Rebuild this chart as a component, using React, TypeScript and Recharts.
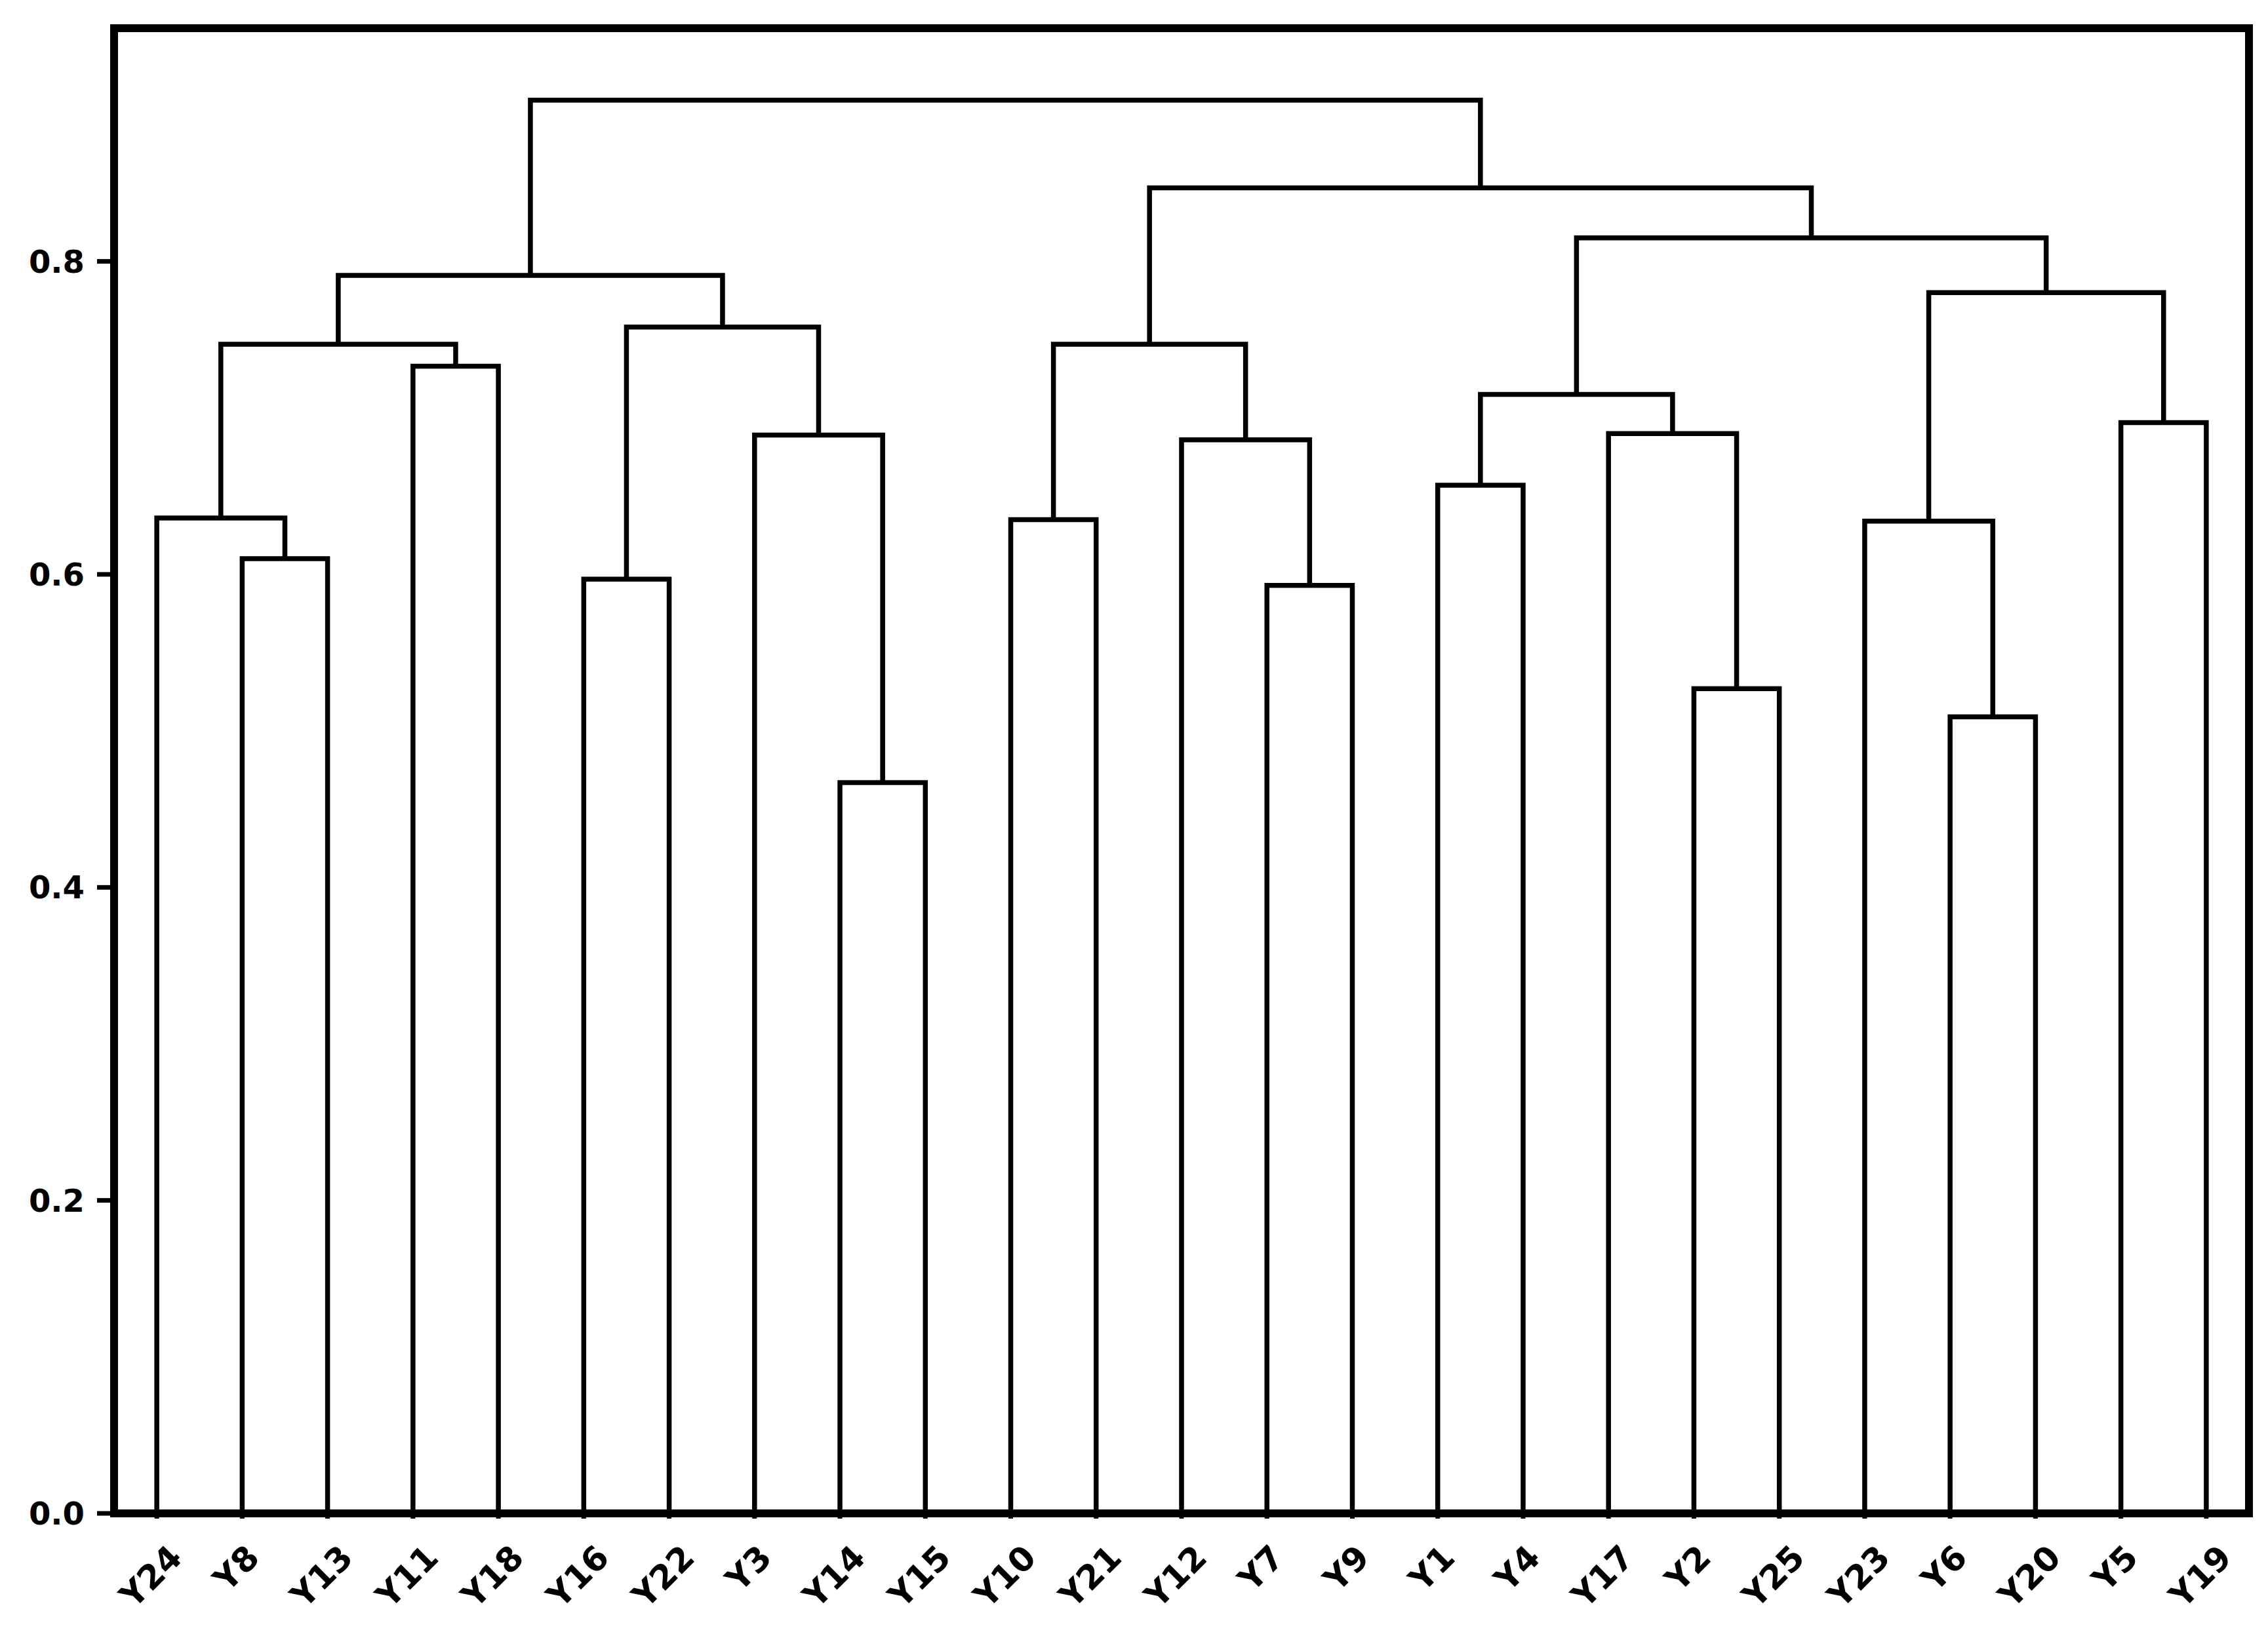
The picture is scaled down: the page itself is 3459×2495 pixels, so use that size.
import React from "react";
import {
    LineChart,
    Line,
    XAxis,
    YAxis,
    ReferenceArea,
} from "recharts";

// leaf order along the x axis (left to right)
const leaves = [
    "Y24", "Y8", "Y13", "Y11", "Y18", "Y16", "Y22", "Y3", "Y14", "Y15",
    "Y10", "Y21", "Y12", "Y7", "Y9", "Y1", "Y4", "Y17", "Y2", "Y25",
    "Y23", "Y6", "Y20", "Y5", "Y19",
];

// linkage: "#k" points at the k-th merge
const mergeLeft = [
    "Y14", "Y6", "Y2", "Y7", "Y16", "Y8", "Y10", "Y23", "Y24", "Y1",
    "Y12", "Y3", "Y17", "Y5", "#9", "Y11", "#8", "#6", "#4", "#7",
    "#16", "#14", "#17", "#20",
];
const mergeRight = [
    "Y15", "Y20", "Y25", "Y9", "Y22", "Y13", "Y21", "#1", "#5", "Y4",
    "#3", "#0", "#2", "Y19", "#12", "Y18", "#15", "#10", "#11", "#13",
    "#18", "#19", "#21", "#22",
];
const mergeHeight = [
    0.467, 0.509, 0.527, 0.593, 0.597, 0.61, 0.635, 0.634, 0.636, 0.657,
    0.686, 0.689, 0.69, 0.697, 0.715, 0.733, 0.747, 0.747, 0.758, 0.78,
    0.791, 0.815, 0.847, 0.903,
];

const yTicks = [0, 0.2, 0.4, 0.6, 0.8];
const Y_MAX = 0.949;

const FONT = "DejaVu Sans";
const X_FONT_SIZE = 51;
const Y_FONT_SIZE = 48;

// scipy-style x positions: leaves at 5, 15, 25, ...
const leafX = leaves.map((_, i) => i * 10 + 5);
const X_MAX = leaves.length * 10;

type Node = { x: number; h: number };

const buildLinks = () => {
    const nodes: Node[] = [];
    const lookup = (id: string): Node => {
        if (id.startsWith("#")) return nodes[parseInt(id.slice(1), 10)];
        return { x: leafX[leaves.indexOf(id)], h: 0 };
    };
    return mergeHeight.map((h, k) => {
        const a = lookup(mergeLeft[k]);
        const b = lookup(mergeRight[k]);
        nodes.push({ x: (a.x + b.x) / 2, h });
        return [
            { x: a.x, y: a.h },
            { x: a.x, y: h },
            { x: b.x, y: h },
            { x: b.x, y: b.h },
        ];
    });
};

const links = buildLinks();

// rough glyph advances for DejaVu Sans Bold, used to centre the rotated label box
const textWidth = (s: string) =>
    s.split("").reduce((w, c) => w + (c === "Y" ? 0.774 : 0.696), 0) * X_FONT_SIZE;

const LeafTick = ({ x, y, payload }: any) => {
    const label = leaves[leafX.indexOf(payload.value)] ?? "";
    const w = textWidth(label);
    const h = X_FONT_SIZE * 0.73;
    const half = (w + h) / (2 * Math.SQRT2);
    const cx = x - 9;
    const cy = y + 34 + half;
    return (
        <text
            x={cx}
            y={cy}
            textAnchor="middle"
            dominantBaseline="central"
            transform={`rotate(-45, ${cx}, ${cy})`}
            fontFamily={FONT}
            fontWeight="bold"
            fontSize={X_FONT_SIZE}
            fill="#000"
        >
            {label}
        </text>
    );
};

export default function App() {
    return (
        <div style={{ background: "#fff" }}>
            <LineChart
                width={3440}
                height={2470}
                margin={{ top: 35, right: 18, left: 0, bottom: 10 }}
            >
                <XAxis
                    type="number"
                    dataKey="x"
                    domain={[0, X_MAX]}
                    ticks={leafX}
                    interval={0}
                    height={160}
                    tickSize={8}
                    tickMargin={2}
                    axisLine={false}
                    tickLine={{ stroke: "#000", strokeWidth: 7 }}
                    tick={<LeafTick />}
                    allowDataOverflow
                />
                <YAxis
                    type="number"
                    domain={[0, Y_MAX]}
                    ticks={yTicks}
                    width={166}
                    tickSize={26}
                    tickMargin={19}
                    axisLine={false}
                    tickLine={{ stroke: "#000", strokeWidth: 7 }}
                    tickFormatter={(v: number) => v.toFixed(1)}
                    tick={{
                        fill: "#000",
                        fontFamily: FONT,
                        fontWeight: "bold",
                        fontSize: Y_FONT_SIZE,
                    }}
                    allowDataOverflow
                />
                {links.map((seg, i) => (
                    <Line
                        key={`link-${i}`}
                        data={seg}
                        dataKey="y"
                        type="linear"
                        stroke="#000"
                        strokeWidth={7.5}
                        strokeLinejoin="miter"
                        strokeLinecap="butt"
                        dot={false}
                        activeDot={false}
                        isAnimationActive={false}
                    />
                ))}
                <ReferenceArea
                    x1={0}
                    x2={X_MAX}
                    y1={0}
                    y2={Y_MAX}
                    fill="none"
                    fillOpacity={0}
                    stroke="#000"
                    strokeWidth={12}
                    ifOverflow="visible"
                />
            </LineChart>
        </div>
    );
}
